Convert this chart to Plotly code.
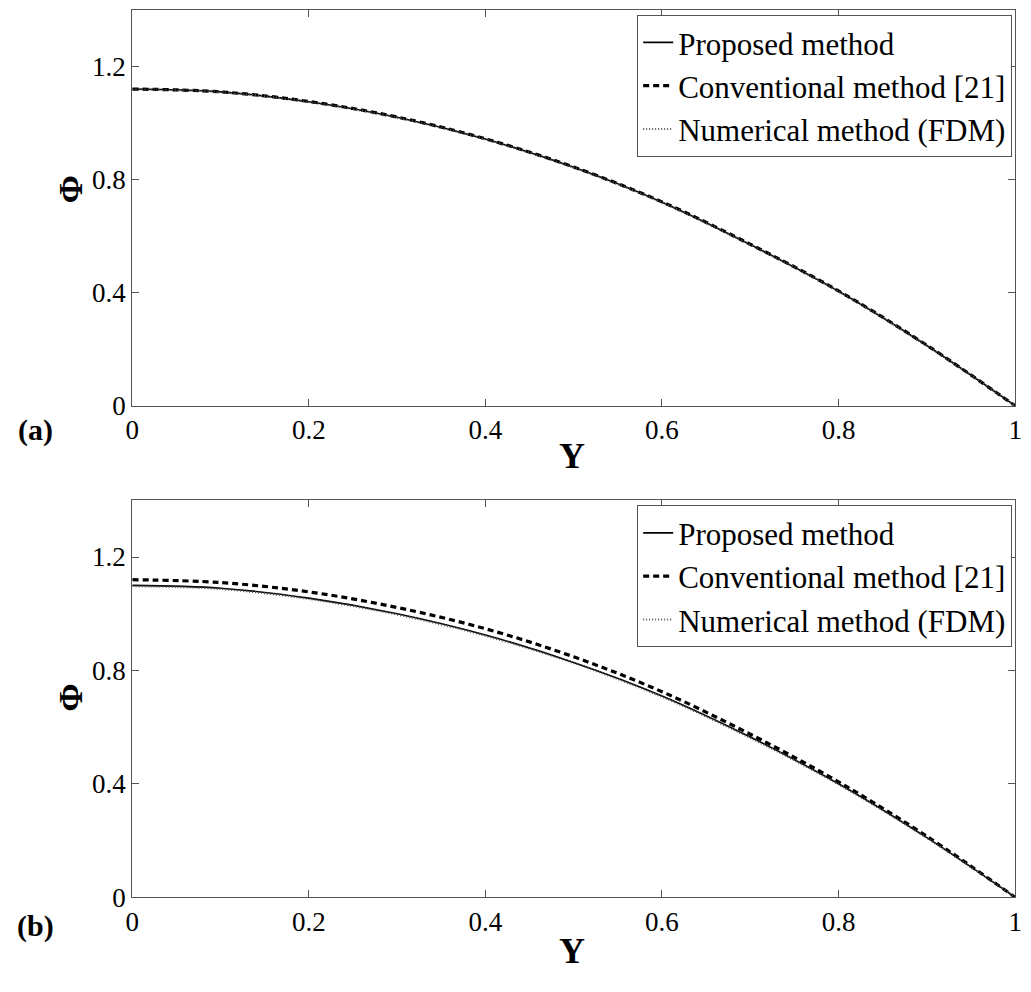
import plotly.graph_objects as go

Y = [0.0, 0.1, 0.2, 0.3, 0.4, 0.5, 0.6, 0.7, 0.8, 0.9, 1.0]

# Panel (a)
a_proposed = [1.12, 1.11, 1.075, 1.02, 0.943, 0.843, 0.72, 0.57, 0.405, 0.213, 0.0]
a_conventional = [1.12, 1.11, 1.076, 1.021, 0.944, 0.844, 0.721, 0.571, 0.406, 0.214, 0.0]
a_fdm = [1.119, 1.109, 1.074, 1.019, 0.942, 0.842, 0.719, 0.569, 0.404, 0.212, 0.0]

# Panel (b)
b_proposed = [1.10, 1.09, 1.055, 1.00, 0.925, 0.828, 0.71, 0.565, 0.40, 0.21, 0.0]
b_conventional = [1.12, 1.11, 1.077, 1.022, 0.947, 0.848, 0.725, 0.575, 0.407, 0.215, 0.0]
b_fdm = [1.097, 1.087, 1.052, 0.997, 0.922, 0.826, 0.707, 0.562, 0.398, 0.209, 0.0]

names = ["Proposed method", "Conventional method [21]", "Numerical method (FDM)"]
x_ticks = [0, 0.2, 0.4, 0.6, 0.8, 1]
x_ticktext = ["0", "0.2", "0.4", "0.6", "0.8", "1"]
y_ticks = [0, 0.4, 0.8, 1.2]
y_ticktext = ["0", "0.4", "0.8", "1.2"]

W, H = 1031, 992
FONT = "Liberation Serif, Times New Roman, serif"

fig = go.Figure()

styles = [
    dict(color="black", width=1.6, dash="solid"),
    dict(color="black", width=3.2, dash="6px,4px"),
    dict(color="#555555", width=2.2, dash="1px,2px"),
]

def add_panel(series, xa, ya, legend):
    for name, vals, st in zip(names, series, styles):
        fig.add_trace(go.Scatter(
            x=Y, y=vals, name=name, mode="lines",
            line=dict(color=st["color"], width=st["width"], dash=st["dash"], shape="spline"),
            xaxis=xa, yaxis=ya, legend=legend,
        ))

add_panel([a_proposed, a_conventional, a_fdm], "x", "y", "legend")
add_panel([b_proposed, b_conventional, b_fdm], "x2", "y2", "legend2")

x0, x1 = 127 / W, 1022 / W
top_dom = [1 - 412 / H, 1 - 10 / H]
bot_dom = [1 - 911 / H, 1 - 508 / H]

axis_common = dict(
    showgrid=False, zeroline=False, showline=True, linecolor="#555555", linewidth=1.3,
    mirror="ticks", ticks="inside", ticklen=7, tickcolor="#555555", tickwidth=1,
    tickfont=dict(family=FONT, size=27, color="black"),
)

legend_common = dict(
    xanchor="right", yanchor="top",
    bgcolor="white", bordercolor="#555555", borderwidth=1,
    font=dict(family=FONT, size=31, color="black"),
    itemwidth=30, tracegroupgap=0,
)

fig.update_layout(
    width=W, height=H,
    margin=dict(l=0, r=0, t=0, b=0),
    paper_bgcolor="white", plot_bgcolor="white",
    font=dict(family=FONT, color="black"),
    xaxis=dict(domain=[x0, x1], anchor="y", range=[0, 1], tickvals=x_ticks, ticktext=x_ticktext, **axis_common),
    yaxis=dict(domain=top_dom, anchor="x", range=[0, 1.4], tickvals=y_ticks, ticktext=y_ticktext, **axis_common),
    xaxis2=dict(domain=[x0, x1], anchor="y2", range=[0, 1], tickvals=x_ticks, ticktext=x_ticktext, **axis_common),
    yaxis2=dict(domain=bot_dom, anchor="x2", range=[0, 1.4], tickvals=y_ticks, ticktext=y_ticktext, **axis_common),
    legend=dict(x=1019 / W, y=1 - 15 / H, **legend_common),
    legend2=dict(x=1019 / W, y=1 - 513 / H, **legend_common),
    showlegend=True,
)

def ann(text, x, y, size, angle=0):
    fig.add_annotation(
        text=text, x=x / W, y=1 - y / H, xref="paper", yref="paper",
        showarrow=False, textangle=angle, xanchor="center", yanchor="middle",
        font=dict(family=FONT, size=size, color="black"),
    )

ann("<b>Y</b>", 573, 463, 36)
ann("<b>Φ</b>", 64, 192, 34, angle=-90)
ann("<b>(a)</b>", 29, 437, 30)
ann("<b>Y</b>", 573, 966, 36)
ann("<b>Φ</b>", 64, 708, 34, angle=-90)
ann("<b>(b)</b>", 29, 940, 30)

fig.write_html("out.html")
